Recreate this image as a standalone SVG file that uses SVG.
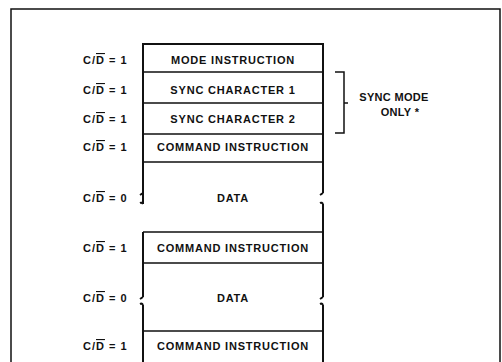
<svg xmlns="http://www.w3.org/2000/svg" width="502" height="362" viewBox="0 0 502 362">
<style>
.t{font-family:"Liberation Sans",Arial,sans-serif;font-weight:bold;font-size:11px;fill:#111;letter-spacing:0.8px}
.c{text-anchor:middle}
.n{letter-spacing:0.3px}
.lbl{font-family:"Liberation Sans",Arial,sans-serif;font-weight:bold;font-size:11px;fill:#111;letter-spacing:1px}
.ol{text-decoration:overline}
.ln{stroke:#111;stroke-width:2;fill:none}
.hl{stroke:#111;stroke-width:1.5;fill:none}
</style>
<rect width="502" height="362" fill="#fff"/>
<g id="frame"><path class="hl" d="M11,363 V9 H500 V363"/></g>
<g id="labels">
<text class="lbl" x="83" y="64">C/<tspan class="ol">D</tspan> = 1</text>
<text class="lbl" x="83" y="94">C/<tspan class="ol">D</tspan> = 1</text>
<text class="lbl" x="83" y="123">C/<tspan class="ol">D</tspan> = 1</text>
<text class="lbl" x="83" y="151">C/<tspan class="ol">D</tspan> = 1</text>
<text class="lbl" x="83" y="202">C/<tspan class="ol">D</tspan> = 0</text>
<text class="lbl" x="83" y="252">C/<tspan class="ol">D</tspan> = 1</text>
<text class="lbl" x="83" y="302">C/<tspan class="ol">D</tspan> = 0</text>
<text class="lbl" x="83" y="350">C/<tspan class="ol">D</tspan> = 1</text>
</g>
<g id="connectors">
<path class="ln" d="M143,363 V305 M143,297 V232 M143,204 V44 H323 V193 M323,204 V297 M323,305 V363"/>
<path class="ln" d="M143,193 L140,195 M143,204 Q142,202 140,203 M323,193 L320,195 M323,204 Q322,202 320,203"/>
<path class="ln" d="M143,297 L140,299 M143,305 Q142,303 140,304 M323,297 L320,299 M323,305 Q322,303 320,304"/>
<path class="hl" d="M143,72 H323 M143,103 H323 M143,134 H323 M143,162 H323 M143,232 H323 M143,263 H323 M143,331 H323"/>
<path class="hl" d="M335,72 H344 V133 H335 M344,103 H348"/>
</g>
<g id="mode"><text class="t c" x="233" y="64">MODE INSTRUCTION</text></g>
<g id="sync1"><text class="t c" x="233" y="94">SYNC CHARACTER 1</text></g>
<g id="sync2"><text class="t c" x="233" y="123">SYNC CHARACTER 2</text></g>
<g id="cmd1"><text class="t c" x="233" y="151">COMMAND INSTRUCTION</text></g>
<g id="data1"><text class="t c" x="233" y="202">DATA</text></g>
<g id="cmd2"><text class="t c" x="233" y="252">COMMAND INSTRUCTION</text></g>
<g id="data2"><text class="t c" x="233" y="302">DATA</text></g>
<g id="cmd3"><text class="t c" x="233" y="350">COMMAND INSTRUCTION</text></g>
<g id="syncnote">
<text class="t c n" x="394" y="101">SYNC MODE</text>
<text class="t c n" x="400" y="116">ONLY *</text>
</g>
</svg>
